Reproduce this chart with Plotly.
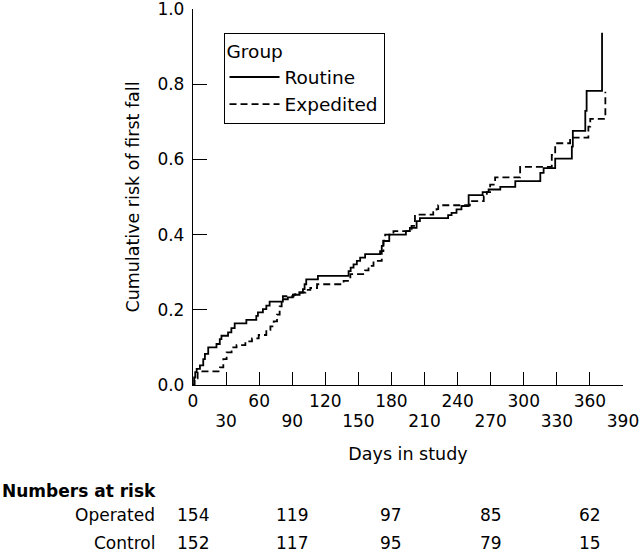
import plotly.graph_objects as go

# Routine group (solid) - cumulative risk steps
routine_days = [0, 1, 2, 3.3, 6.3, 9.3, 10.8, 13.8, 21.3, 24.3, 25.8, 31.8, 34.8, 37.8,
                48.4, 57.4, 58.9, 63.4, 66.5, 69.5, 81.5, 86, 90.6, 96.7, 99.7, 101.2,
                102.7, 113.3, 141.1, 143, 145.6, 148.6, 151.6, 156.1, 169.7, 171.2, 172.7,
                178, 193.1, 196.7, 202.8, 205.8, 231.4, 234.5, 239, 243.5, 250, 262.7,
                268.1, 278.7, 292.3, 315, 318, 328.5, 343.6, 344.5, 355.8, 357, 371]
routine_risk = [0.0, 0.02, 0.034, 0.043, 0.052, 0.069, 0.083, 0.1, 0.109, 0.122, 0.131, 0.14,
                0.151, 0.164, 0.173, 0.184, 0.193, 0.202, 0.211, 0.222, 0.228, 0.233, 0.24,
                0.246, 0.255, 0.268, 0.281, 0.29, 0.303, 0.312, 0.321, 0.33, 0.339, 0.348,
                0.356, 0.37, 0.383, 0.4, 0.409, 0.418, 0.436, 0.444, 0.452, 0.458, 0.467,
                0.476, 0.505, 0.513, 0.52, 0.527, 0.542, 0.564, 0.577, 0.602, 0.634, 0.676,
                0.729, 0.782, 0.937]

# Expedited group (dashed)
expedited_days = [0, 1.5, 4.2, 24.5, 27.5, 30.5, 35, 39.5, 47.5, 53.5, 59.6, 66.5, 70.2, 73.2,
                  76.2, 78.6, 80.4, 81.5, 91.3, 92.8, 101.9, 106.4, 112.5, 136.6, 142.7, 156.1,
                  159.2, 163.7, 171.2, 172.7, 174.3, 181.8, 195.2, 198.2, 201.3, 217.9, 220.9,
                  222.4, 251.1, 263.7, 266.5, 269.5, 274, 296.7, 325.4, 328.5, 342, 358.6,
                  360.3, 374]
expedited_risk = [0.0, 0.018, 0.036, 0.047, 0.069, 0.087, 0.1, 0.106, 0.116, 0.124, 0.133, 0.147,
                  0.156, 0.169, 0.187, 0.209, 0.226, 0.236, 0.24, 0.246, 0.253, 0.258, 0.268,
                  0.277, 0.295, 0.305, 0.317, 0.33, 0.356, 0.384, 0.4, 0.409, 0.414, 0.423,
                  0.453, 0.46, 0.468, 0.478, 0.489, 0.502, 0.513, 0.533, 0.552, 0.58, 0.612,
                  0.643, 0.658, 0.687, 0.708, 0.78]

# Axis ticks
x_ticks_row1 = [0, 60, 120, 180, 240, 300, 360]
x_ticks_row2 = [30, 90, 150, 210, 270, 330, 390]
y_ticks = [0.0, 0.2, 0.4, 0.6, 0.8, 1.0]

# Numbers at risk table
risk_days = [0, 90, 180, 270, 360]
operated_at_risk = [154, 119, 97, 85, 62]
control_at_risk = [152, 117, 95, 79, 15]

FONT = "DejaVu Sans"
TOP, BOTTOM_PX = 9, 385
fig = go.Figure()

fig.add_trace(go.Scatter(
    x=routine_days, y=routine_risk, mode="lines", name="Routine",
    line=dict(color="black", width=1.8, shape="hv"),
))
fig.add_trace(go.Scatter(
    x=expedited_days, y=expedited_risk, mode="lines", name="Expedited",
    line=dict(color="black", width=1.8, shape="hv", dash="7px,4px"),
))
# invisible carrier trace for the second tick-label row
fig.add_trace(go.Scatter(
    x=expedited_days, y=expedited_risk, mode="lines", xaxis="x2",
    line=dict(color="rgba(0,0,0,0)", width=0), showlegend=False, hoverinfo="skip",
))

all_x_ticks = sorted(x_ticks_row1 + x_ticks_row2)

fig.update_layout(
    width=640, height=554,
    margin=dict(l=193, r=17, t=TOP, b=554 - BOTTOM_PX, autoexpand=False),
    paper_bgcolor="white", plot_bgcolor="white",
    font=dict(family=FONT, size=17, color="black"),
    showlegend=True,
    legend=dict(
        title=dict(text="Group", font=dict(size=18.5)),
        font=dict(size=18.5),
        x=0.071, y=0.935, xanchor="left", yanchor="top",
        bordercolor="black", borderwidth=1, bgcolor="white",
        itemwidth=50, tracegroupgap=0, entrywidth=160,
    ),
    xaxis=dict(
        range=[0, 390], tickmode="array", tickvals=all_x_ticks,
        ticktext=[str(v) if v in x_ticks_row1 else "" for v in all_x_ticks],
        ticks="inside", ticklen=13, tickwidth=1, tickcolor="black",
        showline=True, linecolor="black", linewidth=1.3,
        showgrid=False, zeroline=False, mirror=False, automargin=False,
        ticklabeloverflow="allow", tickfont=dict(size=17),
    ),
    xaxis2=dict(
        range=[0, 390], overlaying="x", matches="x", anchor="y", side="bottom",
        tickmode="array", tickvals=x_ticks_row2,
        ticktext=[str(v) for v in x_ticks_row2],
        ticks="", showline=False, showgrid=False, zeroline=False, automargin=False,
        ticklabelstandoff=24, ticklabeloverflow="allow", tickfont=dict(size=17),
        title=dict(text="Days in study", font=dict(size=17.5), standoff=17),
    ),
    yaxis=dict(
        range=[0, 1], tickmode="array", tickvals=y_ticks,
        ticktext=[f"{v:.1f}" for v in y_ticks],
        ticks="inside", ticklen=14, tickwidth=1, tickcolor="black",
        showline=True, linecolor="black", linewidth=1.3,
        showgrid=False, zeroline=False, automargin=False,
        ticklabelstandoff=4, ticklabeloverflow="allow", tickfont=dict(size=17),
        title=dict(text="Cumulative risk of first fall", font=dict(size=17.5), standoff=13),
    ),
)

PLOT_H = BOTTOM_PX - TOP

def py(ypx):
    return (BOTTOM_PX - ypx) / PLOT_H

def px(xpx):
    return (xpx - 193) / 430

annotations = [
    dict(text="<b>Numbers at risk</b>", xref="paper", yref="paper", x=px(0), y=py(491),
         xanchor="left", yanchor="middle", showarrow=False, font=dict(size=17)),
    dict(text="Operated", xref="paper", yref="paper", x=px(157), y=py(515),
         xanchor="right", yanchor="middle", showarrow=False, font=dict(size=17)),
    dict(text="Control", xref="paper", yref="paper", x=px(157), y=py(543),
         xanchor="right", yanchor="middle", showarrow=False, font=dict(size=17)),
]
for d, n in zip(risk_days, operated_at_risk):
    annotations.append(dict(text=str(n), xref="x", yref="paper", x=d, y=py(515),
                            xanchor="center", yanchor="middle", showarrow=False,
                            font=dict(size=17)))
for d, n in zip(risk_days, control_at_risk):
    annotations.append(dict(text=str(n), xref="x", yref="paper", x=d, y=py(543),
                            xanchor="center", yanchor="middle", showarrow=False,
                            font=dict(size=17)))
fig.update_layout(annotations=annotations)

fig.write_html(
    "out.html",
    config={"displayModeBar": False},
    post_script="document.body.style.margin='0';document.body.style.padding='0';",
)
